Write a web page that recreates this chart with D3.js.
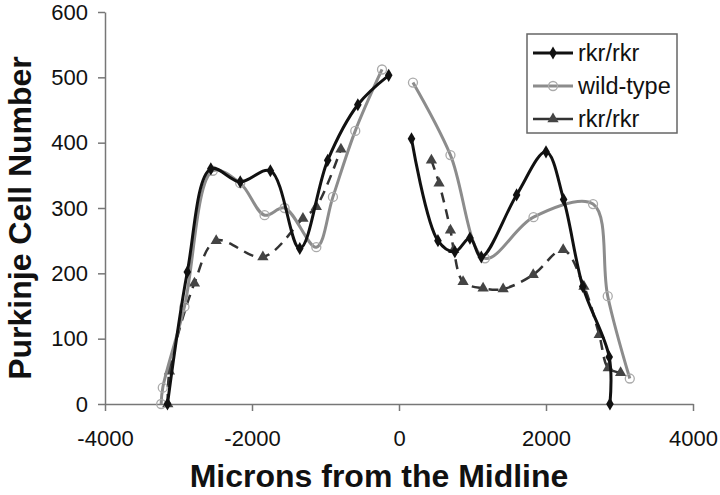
<!DOCTYPE html>
<html>
<head>
<meta charset="utf-8">
<script src="https://cdn.jsdelivr.net/npm/d3@7"></script>
<style>
  body { margin: 0; background: #fff; }
  text { font-family: "Liberation Sans", Arial, sans-serif; }
</style>
</head>
<body>
<div id="chart"></div>
<script>
// Purkinje cell counts across the midline, three series (two gaps at midline)

var rkrLeftX  = [-3150, -2880, -2560, -2160, -1750, -1350, -970, -560, -140],
    rkrLeftY  = [0, 202, 360, 340, 357, 238, 373, 458, 503],
    rkrRightX = [170, 530, 760, 965, 1120, 1600, 2000, 2240, 2500, 2860, 2870],
    rkrRightY = [406, 250, 233, 254, 225, 320, 386, 313, 180, 72, 0];

var wtLeftX  = [-3236, -3214, -2919, -2533, -2160, -1829, -1557, -1125, -899, -595, -231],
    wtLeftY  = [0, 25, 149, 357, 338, 289, 300, 240, 317, 418, 512],
    wtRightX = [190, 700, 1170, 1830, 2640, 2840, 3140],
    wtRightY = [492, 381, 223, 286, 306, 165, 39];

var rkr2LeftX  = [-3146, -3123, -2783, -2487, -1852, -1307, -1125, -790],
    rkr2LeftY  = [0, 50, 185, 250, 225, 284, 302, 390],
    rkr2RightX = [441, 545, 700, 745, 872, 1144, 1417, 1826, 2234, 2516, 2724, 2847, 3015],
    rkr2RightY = [373, 338, 266, 236, 187, 177, 176, 198, 236, 180, 106, 55, 48];

var xTicks = [-4000, -2000, 0, 2000, 4000],
    yTicks = [0, 100, 200, 300, 400, 500, 600],
    legendNames = ["rkr/rkr", "wild-type", "rkr/rkr"];

var width = 720, height = 495,
    margin = {top: 12, right: 27, bottom: 91, left: 105};

var svg = d3.select("#chart").append("svg")
    .attr("width", width)
    .attr("height", height);

var xScale = d3.scaleLinear().domain([-4000, 4000]).range([margin.left, width - margin.right]);
var yScale = d3.scaleLinear().domain([0, 600]).range([height - margin.bottom, margin.top]);

// axes, plain numbers with hyphen minus like the original
var plain = d => String(d);
var xAxis = d3.axisBottom(xScale).tickValues(xTicks).tickFormat(plain)
    .tickSize(7).tickSizeOuter(0).tickPadding(19);
var yAxis = d3.axisLeft(yScale).tickValues(yTicks).tickFormat(plain)
    .tickSize(7).tickSizeOuter(0).tickPadding(10);

var gx = svg.append("g")
    .attr("transform", "translate(0," + yScale(0) + ")")
    .call(xAxis);
var gy = svg.append("g")
    .attr("transform", "translate(" + margin.left + ",0)")
    .call(yAxis);

[gx, gy].forEach(function(g){
  g.selectAll("path, line").attr("stroke", "#777").attr("stroke-width", 1.5);
  g.selectAll("text").attr("fill", "#111").style("font-size", "22px")
    .style("font-family", "'Liberation Sans', Arial, sans-serif");
});

// axis titles
svg.append("text")
    .attr("x", 379).attr("y", 487)
    .attr("text-anchor", "middle")
    .style("font-size", "32px").style("font-weight", "bold")
    .attr("fill", "#111")
    .text("Microns from the Midline");

svg.append("text")
    .attr("transform", "translate(31,218) rotate(-90)")
    .attr("text-anchor", "middle")
    .style("font-size", "32px").style("font-weight", "bold")
    .attr("fill", "#111")
    .text("Purkinje Cell Number");

var line = d3.line()
    .x(d => xScale(d[0]))
    .y(d => yScale(d[1]))
    .curve(d3.curveCatmullRom.alpha(0.5));

function zipPts(xs, ys){ return xs.map((x, i) => [x, ys[i]]); }

var series = [
  {parts: [zipPts(rkr2LeftX, rkr2LeftY), zipPts(rkr2RightX, rkr2RightY)],
   color: "#333", width: 2.5, dash: "10,7", marker: "triangle"},
  {parts: [zipPts(wtLeftX, wtLeftY), zipPts(wtRightX, wtRightY)],
   color: "#8c8c8c", width: 3, dash: null, marker: "circle"},
  {parts: [zipPts(rkrLeftX, rkrLeftY), zipPts(rkrRightX, rkrRightY)],
   color: "#111", width: 3, dash: null, marker: "diamond"}
];

function drawMarker(g, type, x, y, color){
  if (type === "diamond") {
    g.append("path")
      .attr("d", d3.symbol(d3.symbolDiamond, 50)())
      .attr("transform", "translate(" + x + "," + y + ")")
      .attr("fill", color);
  } else if (type === "circle") {
    g.append("circle")
      .attr("cx", x).attr("cy", y).attr("r", 4.5)
      .attr("fill", "none").attr("stroke", "#aaa").attr("stroke-width", 1.3);
  } else {
    g.append("path")
      .attr("d", d3.symbol(d3.symbolTriangle, 55)())
      .attr("transform", "translate(" + x + "," + y + ")")
      .attr("fill", "#444");
  }
}

series.forEach(function(s){
  var g = svg.append("g");
  s.parts.forEach(function(pts){
    g.append("path")
      .attr("d", line(pts))
      .attr("fill", "none")
      .attr("stroke", s.color)
      .attr("stroke-width", s.width)
      .attr("stroke-dasharray", s.dash);
    pts.forEach(p => drawMarker(g, s.marker, xScale(p[0]), yScale(p[1]), s.color));
  });
});

// legend
var lg = svg.append("g");
lg.append("rect")
    .attr("x", 527).attr("y", 34).attr("width", 150).attr("height", 99)
    .attr("fill", "#fff").attr("stroke", "#666").attr("stroke-width", 1.5);

var legendStyles = [
  {color: "#111", width: 3, dash: null, marker: "diamond"},
  {color: "#8c8c8c", width: 3, dash: null, marker: "circle"},
  {color: "#333", width: 2.5, dash: "18,5", marker: "triangle"}
];
legendNames.forEach(function(name, i){
  var y = 53 + i * 33, st = legendStyles[i];
  lg.append("line")
    .attr("x1", 533).attr("x2", 573).attr("y1", y).attr("y2", y)
    .attr("stroke", st.color).attr("stroke-width", st.width)
    .attr("stroke-dasharray", st.dash);
  drawMarker(lg, st.marker, 553, y, st.color);
  lg.append("text")
    .attr("x", 578).attr("y", y).attr("dy", "0.35em")
    .style("font-size", "23.5px").attr("fill", "#111")
    .text(name);
});
</script>
</body>
</html>
